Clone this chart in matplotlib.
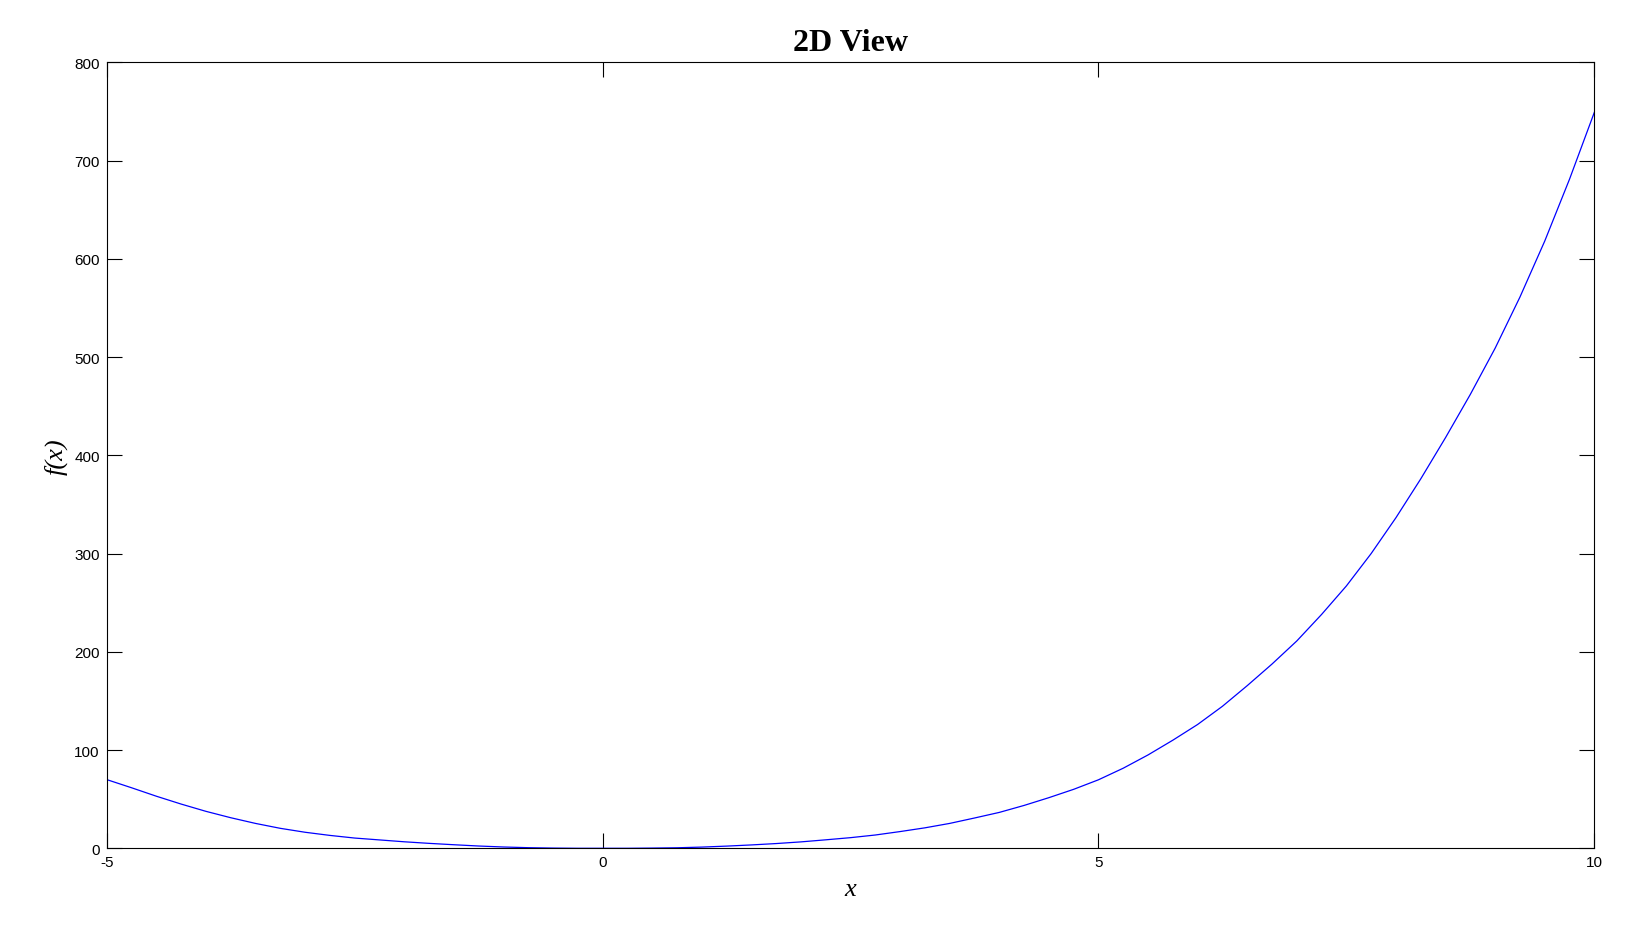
import numpy as np
import matplotlib
matplotlib.use("Agg")
import matplotlib.pyplot as plt

plt.rcParams["axes.unicode_minus"] = False

# values (step 0.25)
x_vals = [-5, -4.75, -4.5, -4.25, -4, -3.75, -3.5, -3.25, -3, -2.75, -2.5, -2.25,
          -2, -1.75, -1.5, -1.25, -1, -0.75, -0.5, -0.25, 0, 0.25, 0.5, 0.75,
          1, 1.25, 1.5, 1.75, 2, 2.25, 2.5, 2.75, 3, 3.25, 3.5, 3.75,
          4, 4.25, 4.5, 4.75, 5, 5.25, 5.5, 5.75, 6, 6.25, 6.5, 6.75,
          7, 7.25, 7.5, 7.75, 8, 8.25, 8.5, 8.75, 9, 9.25, 9.5, 9.75, 10]
f_vals = [69.9, 61.6, 53, 45, 37.6, 31.1, 25.3, 20.3, 16.3, 13.1, 10.4, 8.5,
          6.6, 5, 3.6, 2.3, 1.3, 0.6, 0.2, 0, 0, 0, 0.2, 0.5,
          1.2, 2.2, 3.4, 4.8, 6.5, 8.6, 10.8, 13.5, 17, 20.8, 25.3, 30.8,
          36.5, 43.6, 51.5, 60, 69.7, 81.5, 95, 110, 126, 144.5, 165.5, 187.5,
          211, 238, 267, 300, 336.5, 376, 418, 462, 509, 561, 618, 681, 749]

x_ticks = [-5, 0, 5, 10]
y_ticks = [0, 100, 200, 300, 400, 500, 600, 700, 800]

fig = plt.figure(figsize=(16.32, 9.45), dpi=100)
ax = fig.add_axes([0.0654, 0.1013, 0.9115, 0.8317])

ax.plot(x_vals, f_vals, color=(0, 0, 1), linewidth=0.9)

ax.set_xlim(-5, 10)
ax.set_ylim(0, 800)
ax.set_xticks(x_ticks)
ax.set_yticks(y_ticks)
ax.tick_params(direction="in", length=10.8, width=0.8, top=True, right=True,
               labelsize=11, pad=5)
for lbl in ax.get_xticklabels() + ax.get_yticklabels():
    lbl.set_family("Liberation Sans")
for sp in ax.spines.values():
    sp.set_linewidth(0.8)

ax.set_title("2D View", family="Liberation Serif", fontweight="bold", fontsize=23, pad=9)
ax.set_xlabel("x", family="Liberation Serif", style="italic", fontsize=19, labelpad=6)
ax.set_ylabel("f(x)", family="Liberation Serif", style="italic", fontsize=19, labelpad=5)

fig.savefig("out.png", dpi=100)
